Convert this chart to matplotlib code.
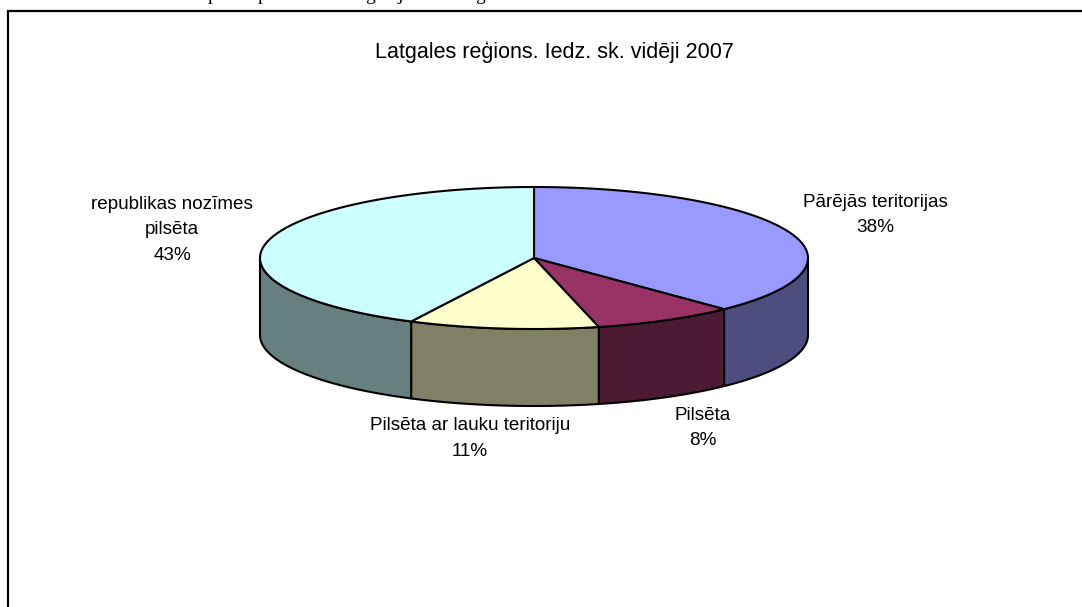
import numpy as np
import matplotlib
matplotlib.use("Agg")
import matplotlib.pyplot as plt

plt.rcParams['font.family'] = ['Liberation Sans', 'DejaVu Sans']

title = "Latgales reģions. Iedz. sk. vidēji 2007"
labels = ["Pārējās teritorijas", "Pilsēta", "Pilsēta ar lauku teritoriju", "republikas nozīmes\npilsēta"]
shares = [37.8, 8.4, 11.2, 42.6]
top_colors = ["#9999ff", "#993366", "#ffffcc", "#ccffff"]
side_colors = ["#4d4d80", "#4d1a33", "#808066", "#668080"]

# work in image pixels, y going down
fig = plt.figure(figsize=(10.82, 6.07), dpi=100)
ax = fig.add_axes([0, 0, 1, 1])
ax.set_xlim(0, 1082)
ax.set_ylim(607, 0)
ax.axis("off")

cx, cy = 534, 258
rx, ry = 274, 71
depth = 77


def rim(a, b):
    t = np.radians(np.linspace(a, b, 80))
    return cx + rx * np.sin(t), cy - ry * np.cos(t)


edges = np.concatenate([[0], np.cumsum(shares)]) * 3.6

# sides first, only the front half (90..270 deg) shows
for i in range(4):
    a = max(edges[i], 90)
    b = min(edges[i + 1], 270)
    if a >= b:
        continue
    x, y = rim(a, b)
    ax.fill(np.r_[x, x[::-1]], np.r_[y, y[::-1] + depth],
            facecolor=side_colors[i], edgecolor="black", lw=1.5, joinstyle="round", zorder=2)

for i in range(4):
    x, y = rim(edges[i], edges[i + 1])
    ax.fill(np.r_[cx, x], np.r_[cy, y], facecolor=top_colors[i], edgecolor="black",
            lw=1.5, joinstyle="round", zorder=3)

ax.text(554.5, 52, title, ha="center", va="center", fontsize=15.5, color="black")

label_pos = [(875, 215), (703, 428), (470, 438.5), (172, 230)]
for lab, s, (lx, ly) in zip(labels, shares, label_pos):
    ax.text(lx, ly, f"{lab}\n{s:.0f}%", ha="center", va="center", fontsize=13.6,
            linespacing=1.65, color="black")

# chart frame: left and top edges only are in the crop
ax.plot([8, 8, 1082], [607, 11, 11], color="black", lw=1.6, solid_joinstyle="miter", clip_on=False)

# cut off line of body text above the chart, only the descenders show
for ch, x in zip("ppgjg", [213, 263, 370, 400, 480]):
    ax.text(x, 0, ch, ha="center", va="baseline", fontsize=14, family="Liberation Serif", color="black")

fig.savefig("out.png", dpi=100)
